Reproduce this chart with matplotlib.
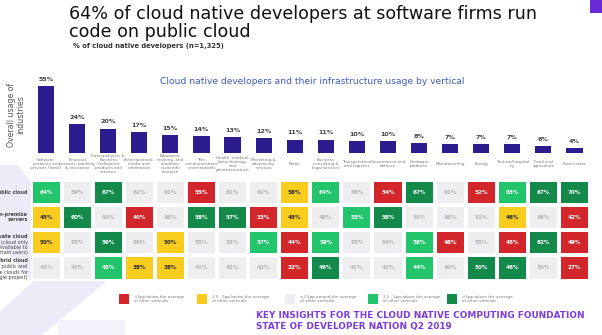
import matplotlib.pyplot as plt
import numpy as np
from matplotlib.colors import ListedColormap
from matplotlib.patches import Polygon, Rectangle

W, H = 602, 335

industries = [
    "Software\nproducts and\nservices (SaaS)",
    "Financial\nservices, banking\n& insurance",
    "Data analytics &\nBusiness\nIntelligence\nproducts and\nservices",
    "Entertainment,\nmedia and\ninformation",
    "Education,\ntraining, and\nacademic\n/scientific\nresearch",
    "Tele-\ncommunications\nand networks",
    "Health, medical,\nbiotechnology,\nand\npharmaceuticals",
    "Marketing &\nadvertising\nservices",
    "Retail",
    "Business\nconsulting &\nlegal services",
    "Transportation\nand logistics",
    "Government and\ndefence",
    "Hardware\nproducts",
    "Manufacturing",
    "Energy",
    "Tourism/hospital\nity",
    "Food and\nagriculture",
    "Real estate",
]
overall_usage = [55, 24, 20, 17, 15, 14, 13, 12, 11, 11, 10, 10, 8, 7, 7, 7, 6, 4]

infra_types = ["Public cloud", "On-premise servers", "Private cloud", "Hybrid cloud"]
public_cloud = [64, 59, 67, 62, 61, 55, 61, 62, 58, 64, 58, 54, 67, 61, 52, 63, 67, 70]
on_premise = [45, 60, 50, 40, 48, 58, 57, 33, 45, 49, 53, 58, 50, 48, 51, 46, 48, 42]
private_cloud = [50, 55, 59, 55, 50, 55, 55, 57, 44, 59, 55, 54, 58, 48, 55, 45, 62, 49]
hybrid_cloud = [41, 40, 45, 38, 38, 41, 42, 42, 32, 46, 41, 42, 44, 40, 50, 46, 39, 27]

# R: >5pp below, Y: 2.5-5pp below, N: within 2.5pp, L: 2.5-5pp above, D: >5pp above
public_codes = "L N D N N R N N Y L N R D N R L D D".split()
on_premise_codes = "Y D N R N D D R Y N L D N N N Y N R".split()
private_codes = "Y N D N Y N N L R L N N L R N R D R".split()
hybrid_codes = "N N L Y Y N N N R D N N L N D D N R".split()

band_order = ["R", "Y", "N", "L", "D"]
band_colors = ["#d2262a", "#f8cd1f", "#eeeef0", "#22c56c", "#138a4a"]
band_text = ["white", "#2b2b2b", "#b4b4b8", "white", "white"]
band_labels = ["<5pp below the average\nof other verticals",
               "2.5 - 5pp below the average\nof other verticals",
               "\u00b12.5pp around the average\nof other verticals",
               "2.5 - 5pp above the average\nof other verticals",
               ">5pp above the average\nof other verticals"]


def fx(px):
    return px / W


def fy(py):
    return 1 - py / H


fig = plt.figure(figsize=(W / 100, H / 100), dpi=100)
fig.patch.set_facecolor("white")

# background chevron + corner block
bg = fig.add_axes([0, 0, 1, 1], zorder=0)
bg.set_xlim(0, W)
bg.set_ylim(H, 0)
bg.axis("off")
bg.add_patch(Polygon([(-40, 165), (18, 165), (106, 282), (30, 345), (-40, 345),
                      (-10, 320), (33, 282), (-40, 200)],
                     closed=True, color="#eeebf8", lw=0))
bg.add_patch(Rectangle((58, 320), 67, 20, color="#f3f1fa", lw=0))
bg.add_patch(Rectangle((590, 0), 14, 13, color="#6a2bd6", lw=0))

# titles
fig.text(fx(69), fy(14), "64% of cloud native developers at software firms run",
         fontsize=12.6, color="#111111", va="center", ha="left")
fig.text(fx(69), fy(32), "code on public cloud",
         fontsize=12.6, color="#111111", va="center", ha="left")
fig.text(fx(73), fy(46), "% of cloud native developers (n=1,325)",
         fontsize=4.9, fontweight="bold", color="#333333", va="center", ha="left")
fig.text(fx(312), fy(82), "Cloud native developers and their infrastructure usage by vertical",
         fontsize=6.55, color="#3b5bbf", va="center", ha="center")
fig.text(fx(16), fy(115), "Overall usage of\nindustries", rotation=90,
         fontsize=5.6, color="#555555", va="center", ha="center", linespacing=1.1)

# bar chart of overall usage
left, right = 30.5, 590
x = np.arange(len(industries))
ax = fig.add_axes([fx(left), fy(153), fx(right - left), (153 - 80) / H], zorder=2)
ax.patch.set_alpha(0)
bars = ax.bar(x, overall_usage, width=0.52, color="#2c1d8e")
ax.bar_label(bars, labels=[f"{v}%" for v in overall_usage], padding=3,
             fontsize=4.6, fontweight="bold", color="#444444")
ax.set_xlim(-0.5, len(industries) - 0.5)
ax.set_ylim(0, 60)
ax.axis("off")
for i, name in enumerate(industries):
    ax.text(i, -0.155, name, transform=ax.get_xaxis_transform(), ha="center", va="center",
            fontsize=2.9, color="#777777", linespacing=1.0)

# heatmap of infrastructure usage
rows = [public_cloud, on_premise, private_cloud, hybrid_cloud]
codes = [public_codes, on_premise_codes, private_codes, hybrid_codes]
grid = np.array([[band_order.index(c) for c in r] for r in codes])

hm = fig.add_axes([fx(left), fy(280.5), fx(right - left), 101 / H], zorder=1)
hm.pcolormesh(grid, cmap=ListedColormap(band_colors), vmin=-0.5, vmax=4.5,
              edgecolors="white", linewidth=1.6)
hm.set_xlim(0, len(industries))
hm.set_ylim(len(rows), 0)
hm.axis("off")
for r, vals in enumerate(rows):
    for c, v in enumerate(vals):
        hm.text(c + 0.5, r + 0.5, f"{v}%", ha="center", va="center", fontsize=4.1,
                fontweight="bold", color=band_text[grid[r, c]])

trans = hm.get_yaxis_transform()
lbl = dict(transform=trans, ha="right", fontsize=3.5, color="#444444", linespacing=1.05)
hm.text(-0.005, 0.5, "Public cloud", va="center", fontweight="bold", **lbl)
hm.text(-0.005, 1.5, "On-premise\nservers", va="center", fontweight="bold", **lbl)
hm.text(-0.005, 2.14, "Private cloud", va="top", fontweight="bold", **lbl)
hm.text(-0.005, 2.38, "(cloud only\navailable to\ncertain users)", va="top", **lbl)
hm.text(-0.005, 3.12, "Hybrid cloud", va="top", fontweight="bold", **lbl)
hm.text(-0.005, 3.36, "(mix of public and\nprivate clouds for\na single project)", va="top", **lbl)

# legend
swatch_x = [119, 197, 285, 368, 447]
for sx, color, label in zip(swatch_x, band_colors, band_labels):
    fig.add_artist(Rectangle((fx(sx), fy(304)), 10 / W, 10 / H, color=color,
                             transform=fig.transFigure, lw=0))
    fig.text(fx(sx + 15), fy(299), label, fontsize=2.9, color="#777777",
             va="center", ha="left", linespacing=1.1)

fig.text(fx(256), fy(315), "KEY INSIGHTS FOR THE CLOUD NATIVE COMPUTING FOUNDATION",
         fontsize=6.4, fontweight="bold", color="#7a3ce0", va="center", ha="left")
fig.text(fx(256), fy(327), "STATE OF DEVELOPER NATION Q2 2019",
         fontsize=6.4, fontweight="bold", color="#7a3ce0", va="center", ha="left")

fig.savefig("out.png", dpi=100)
